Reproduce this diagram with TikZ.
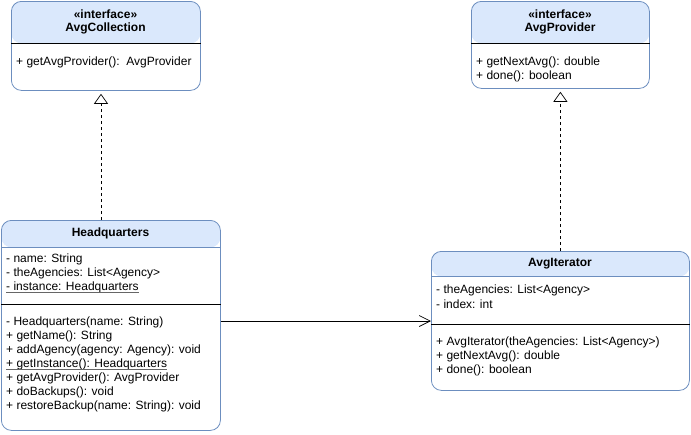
\documentclass[tikz,border=0pt]{standalone}
\usepackage{fontspec}
\setmainfont{Liberation Sans}
\usetikzlibrary{arrows.meta,positioning}
\definecolor{hdrfill}{HTML}{DAE8FC}
\definecolor{hdrline}{HTML}{6C8EBF}
\tikzset{
	classbox/.style={draw=hdrline, line width=0.8pt, rounded corners=10pt, inner sep=0pt, anchor=north west,
		path picture={\fill[hdrfill] (path picture bounding box.north west) rectangle ([yshift=-#1]path picture bounding box.north east);}},
	member/.style={anchor=west, inner sep=0pt, font=\fontsize{12}{14}\selectfont},
	title/.style={inner sep=0pt, font=\bfseries\fontsize{12}{14}\selectfont},
	divider/.style={line width=0.8pt},
	hdrsep/.style={draw=hdrline, line width=0.6pt},
	staticline/.style={draw=black!60, line width=1pt},
	realize/.style={line width=0.7pt, dash pattern=on 3pt off 3pt, shorten >=3pt, -{Triangle[open,length=10pt,width=14pt]}},
	assoc/.style={line width=0.7pt, -{Straight Barb[length=11pt,width=11pt]}}
}
\begin{document}
\begin{tikzpicture}[x=1pt,y=-1pt]
	\useasboundingbox (0,0) rectangle (691,434);
	% interface AvgCollection
	\node[classbox=42pt, minimum width=189pt, minimum height=89pt] (coll) at (11,1) {};
	\node[title] (collst) at (105.5,14) {«interface»};
	\node[title] (collname) at (105.5,28) {AvgCollection};
	\draw[divider] (coll.west |- 0,43) -- (coll.east |- 0,43);
	\node[member] (collm1) at (16,62) {+ getAvgProvider():\ \ AvgProvider};
	% interface AvgProvider
	\node[classbox=42pt, minimum width=178pt, minimum height=87pt] (prov) at (471,1) {};
	\node[title] (provst) at (560,14) {«interface»};
	\node[title] (provname) at (560,28) {AvgProvider};
	\draw[divider] (prov.west |- 0,43) -- (prov.east |- 0,43);
	\node[member] (provm1) at (476,62) {+ getNextAvg(): double};
	\node[member] (provm2) at (476,76) {+ done(): boolean};
	% class Headquarters
	\node[classbox=27pt, minimum width=219pt, minimum height=210pt] (hq) at (1,220) {};
	\node[title] (hqname) at (110.5,233) {Headquarters};
	\draw[hdrsep] (hq.west |- 0,247) -- (hq.east |- 0,247);
	\node[member] (hqa1) at (6,259) {- name: String};
	\node[member] (hqa2) at (6,273) {- theAgencies: List<Agency>};
	\node[member] (hqa3) at (6,287) {- instance: Headquarters};
	\draw[staticline] ([yshift=-2pt]hqa3.base west) -- ([yshift=-2pt]hqa3.base east);
	\draw[divider] (hq.west |- 0,304) -- (hq.east |- 0,304);
	\node[member] (hqm1) at (6,322) {- Headquarters(name: String)};
	\node[member] (hqm2) at (6,336) {+ getName(): String};
	\node[member] (hqm3) at (6,350) {+ addAgency(agency: Agency): void};
	\node[member] (hqm4) at (6,364) {+ getInstance(): Headquarters};
	\draw[staticline] ([yshift=-2pt]hqm4.base west) -- ([yshift=-2pt]hqm4.base east);
	\node[member] (hqm5) at (6,378) {+ getAvgProvider(): AvgProvider};
	\node[member] (hqm6) at (6,392) {+ doBackups(): void};
	\node[member] (hqm7) at (6,406) {+ restoreBackup(name: String): void};
	% class AvgIterator
	\node[classbox=25pt, minimum width=258pt, minimum height=139pt] (it) at (431,251) {};
	\node[title] (itname) at (560,264) {AvgIterator};
	\draw[hdrsep] (it.west |- 0,276) -- (it.east |- 0,276);
	\node[member] (ita1) at (436,290) {- theAgencies: List<Agency>};
	\node[member] (ita2) at (436,304) {- index: int};
	\draw[divider] (it.west |- 0,324) -- (it.east |- 0,324);
	\node[member] (itm1) at (436,342) {+ AvgIterator(theAgencies: List<Agency>)};
	\node[member] (itm2) at (436,356) {+ getNextAvg(): double};
	\node[member] (itm3) at (436,370) {+ done(): boolean};
	% relations
	\draw[realize] (hq.north -| 101,0) -- (coll.south -| 101,0);
	\draw[realize] (it.north) -- (prov.south);
	\draw[assoc] (hq.east |- 0,321) -- (it.west |- 0,321);
\end{tikzpicture}
\end{document}
